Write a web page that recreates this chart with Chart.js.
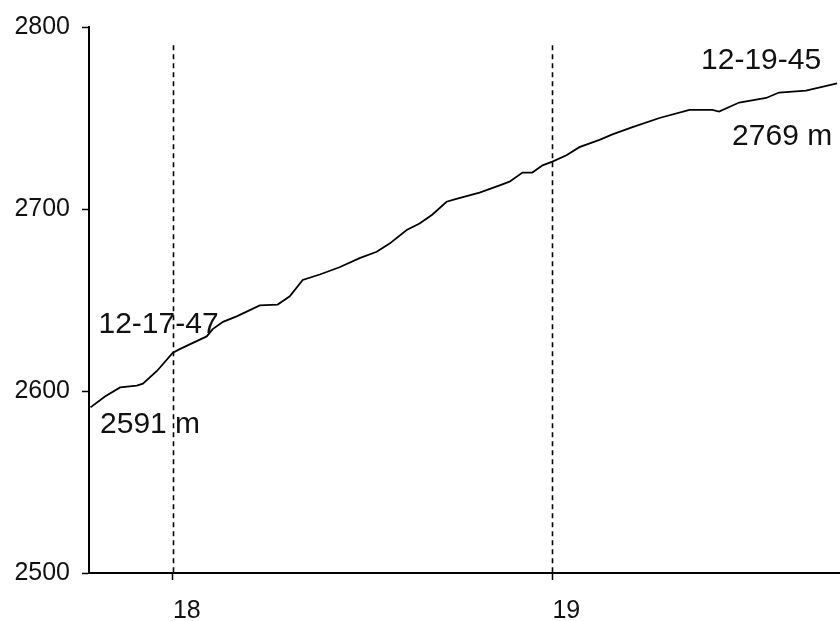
<!DOCTYPE html>
<html>
<head>
<meta charset="utf-8">
<script src="https://cdn.jsdelivr.net/npm/chart.js@4/dist/chart.umd.min.js"></script>
<style>
  html, body { margin: 0; padding: 0; background: #fff; }
  #wrap { width: 840px; height: 621px; }
</style>
</head>
<body>
<div id="wrap"><canvas id="altChart" width="840" height="621"></canvas></div>
<script>
// time in minutes past 12:00, altitude in metres
const minutes = [17.783, 17.821, 17.861, 17.905, 17.921, 17.958, 18.000, 18.018, 18.089, 18.105,
  18.132, 18.168, 18.229, 18.276, 18.308, 18.342, 18.387, 18.439, 18.492, 18.537,
  18.571, 18.616, 18.650, 18.684, 18.721, 18.747, 18.808, 18.861, 18.887, 18.921,
  18.947, 18.974, 19.000, 19.037, 19.071, 19.124, 19.158, 19.211, 19.282, 19.361,
  19.421, 19.439, 19.492, 19.563, 19.597, 19.668, 19.750];
const altitude = [2591, 2597, 2602, 2603, 2604, 2611, 2621, 2623, 2630, 2634,
  2638, 2641, 2647, 2647.5, 2652, 2661, 2664, 2668, 2673, 2676.5,
  2681, 2688.5, 2692, 2697, 2704, 2705.5, 2709, 2713, 2715, 2720,
  2720, 2724, 2726, 2729.5, 2734, 2738, 2741, 2745, 2750, 2754.5,
  2754.5, 2753.5, 2758.5, 2761, 2764, 2765, 2769];
const xTicks = [18, 19];
const yTicks = [2500, 2600, 2700, 2800];

// start / end labels
const notes = [
  { text: '12-17-47', x: 17.804, y: 2636.6, align: 'left' },
  { text: '2591 m', x: 17.808, y: 2581.4, align: 'left' },
  { text: '12-19-45', x: 19.708, y: 2781.4, align: 'right' },
  { text: '2769 m', x: 19.737, y: 2739.9, align: 'right' }
];

const FONT = '"Liberation Sans", Arial, sans-serif';

const markerLines = {
  id: 'markerLines',
  beforeDatasetsDraw(chart) {
    const { ctx, scales: { x, y } } = chart;
    ctx.save();
    ctx.strokeStyle = '#000';
    ctx.lineWidth = 1.6;
    ctx.setLineDash([5, 4]);
    xTicks.forEach(v => {
      const px = Math.round(x.getPixelForValue(v)) + 0.5;
      ctx.beginPath();
      ctx.moveTo(px, y.getPixelForValue(2790));
      ctx.lineTo(px, y.getPixelForValue(2500));
      ctx.stroke();
    });
    ctx.restore();
  },
  afterDraw(chart) {
    const { ctx, scales: { x, y } } = chart;
    ctx.save();
    ctx.fillStyle = '#111';
    ctx.font = '30px ' + FONT;
    ctx.textBaseline = 'middle';
    notes.forEach(n => {
      ctx.textAlign = n.align;
      ctx.fillText(n.text, x.getPixelForValue(n.x), y.getPixelForValue(n.y));
    });
    ctx.restore();
  }
};

new Chart(document.getElementById('altChart'), {
  type: 'scatter',
  data: {
    datasets: [{
      data: minutes.map((m, i) => ({ x: m, y: altitude[i] })),
      showLine: true,
      borderColor: '#000',
      borderWidth: 1.8,
      pointRadius: 0,
      tension: 0
    }]
  },
  options: {
    responsive: false,
    animation: false,
    layout: { padding: { top: 24, right: 1, bottom: 0, left: 0 } },
    plugins: { legend: { display: false }, tooltip: { enabled: false } },
    scales: {
      x: {
        type: 'linear',
        min: 17.779,
        max: 19.755,
        afterBuildTicks: s => { s.ticks = xTicks.map(v => ({ value: v })); },
        afterFit: s => { s.height = 48; },
        grid: { drawOnChartArea: false, color: '#000', tickLength: 7, tickWidth: 1.5 },
        border: { color: '#000', width: 2 },
        ticks: { align: 'start', color: '#111', padding: 16, font: { family: FONT, size: 25 },
          callback: v => String(v) }
      },
      y: {
        min: 2500,
        max: 2800,
        afterBuildTicks: s => { s.ticks = yTicks.map(v => ({ value: v })); },
        afterFit: s => { s.width = 89; },
        grid: { drawOnChartArea: false, color: '#000', tickLength: 7, tickWidth: 1.5 },
        border: { color: '#000', width: 2 },
        ticks: { color: '#111', padding: 12, font: { family: FONT, size: 25 },
          callback: v => String(v) }
      }
    }
  },
  plugins: [markerLines]
});
</script>
</body>
</html>
